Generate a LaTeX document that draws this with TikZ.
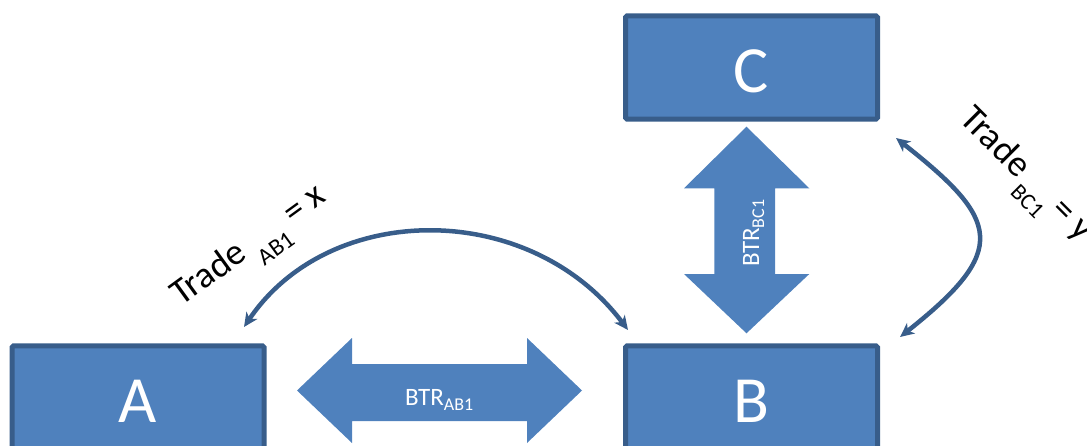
\documentclass[tikz,border=0pt]{standalone}
\usepackage{fontspec}
\setmainfont{Carlito}
\usetikzlibrary{arrows.meta}
\definecolor{boxfill}{HTML}{4F81BD}
\definecolor{boxline}{HTML}{385D8A}
\tikzset{
  box/.style={draw=boxline, fill=boxfill, line width=5pt, rounded corners=1.5pt,
    minimum width=252pt, minimum height=103.4pt, inner sep=0pt, text=white,
    text height=50pt, text depth=0pt,
    font=\fontsize{66}{66}\selectfont},
  blockarrow/.style={fill=boxfill},
  link/.style={draw=boxline, line width=4.5pt,
    {Stealth[length=14pt,width=13pt,inset=4pt]}-{Stealth[length=14pt,width=13pt,inset=4pt]}},
  tradelbl/.style={anchor=base west, inner sep=0pt, text=black, font=\fontsize{37}{37}\selectfont},
  btrlbl/.style={anchor=base west, inner sep=0pt, text=white, font=\fontsize{25}{25}\selectfont}
}
\begin{document}
\begin{tikzpicture}[x=1pt,y=1pt]
\useasboundingbox (0,0) rectangle (1087,445);
% boxes
\node[box] (A) at (138,47.5) {A};
\node[box] (B) at (751.5,47.5) {B};
\node[box] (C) at (751.5,377.5) {C};
% block arrow A-B
\fill[blockarrow] (297,54.5) -- (352,107) -- (352,81) -- (527,81) -- (527,107) -- (582,54.5)
  -- (527,2) -- (527,24) -- (352,24) -- (352,2) -- cycle;
\node[btrlbl] (btrab) at (405,40) {BTR\raisebox{-5pt}{\fontsize{18}{18}\selectfont AB1}};
% block arrow B-C
\fill[blockarrow] (746.5,318.3) -- (809.3,256.7) -- (775,256.7) -- (775,171) -- (809.3,171)
  -- (746.5,111.7) -- (684,171) -- (714.3,171) -- (714.3,256.7) -- (684,256.7) -- cycle;
\node[btrlbl, rotate=90] (btrbc) at (759,178) {BTR\raisebox{-5pt}{\fontsize{18}{18}\selectfont BC1}};
% curved trade connectors
\coordinate (abA) at (244,118);
\coordinate (abB) at (628,115);
\draw[link] (abA) .. controls (330,245) and (530,245) .. (abB);
\coordinate (bcC) at (896,307);
\coordinate (bcB) at (900,108);
\draw[link] (bcC) .. controls (1000,225) and (1010,195) .. (bcB);
% trade labels
\node[tradelbl, rotate=36] (tab) at (181,138)
  {Trade\hspace{8pt}\raisebox{-16pt}{\fontsize{24}{24}\selectfont AB1}\hspace{8pt}= x};
\node[tradelbl, rotate=-45] (tbc) at (958,325)
  {Trade\hspace{5pt}\raisebox{-16pt}{\fontsize{23}{23}\selectfont BC1}\hspace{5pt}= y};
\end{tikzpicture}
\end{document}
